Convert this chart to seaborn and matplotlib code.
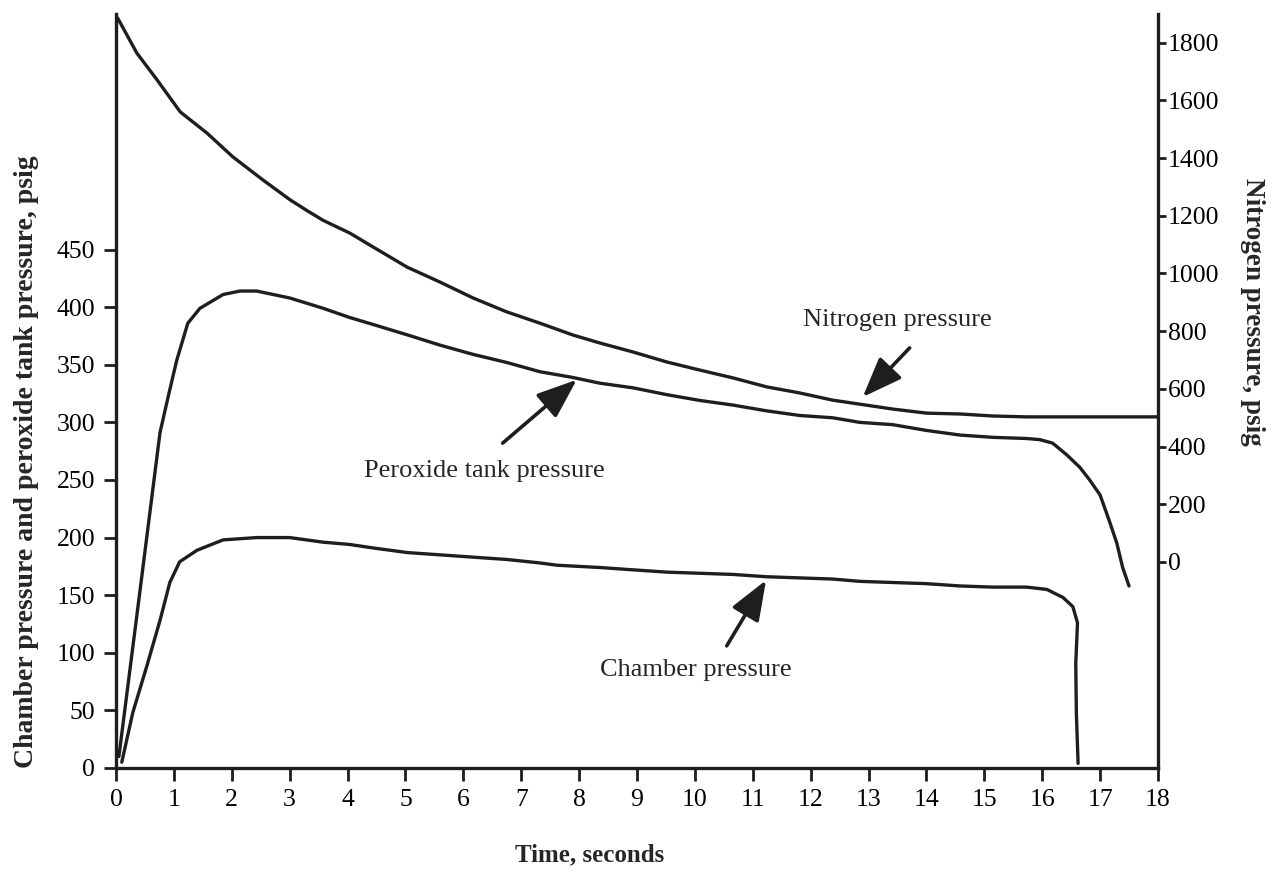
import matplotlib
matplotlib.use("Agg")
import matplotlib.pyplot as plt
import seaborn as sns

# values
nitrogen_t = [0.03, 0.36, 0.71, 1.11, 1.57, 2.02, 2.54, 3.01, 3.30, 3.58, 4.04, 4.44,
              5.03, 5.60, 6.17, 6.75, 7.32, 7.89, 8.36, 8.93, 9.52, 10.09, 10.66, 11.24,
              11.81, 12.38, 12.85, 13.42, 14.0, 14.58, 15.15, 15.73, 16.3, 17.34, 18.0]
nitrogen_psig = [1885, 1764, 1671, 1560, 1487, 1404, 1324, 1255, 1218, 1184, 1140, 1092,
                 1022, 970, 915, 867, 828, 787, 759, 728, 693, 665, 638, 607,
                 586, 561, 547, 530, 516, 513, 506, 503, 503, 503, 503]

peroxide_t = [0.05, 0.41, 0.76, 0.90, 1.05, 1.24, 1.45, 1.85, 2.14, 2.43, 3.0, 3.58,
              4.04, 4.44, 5.03, 5.60, 6.17, 6.75, 7.32, 7.89, 8.36, 8.93, 9.52, 10.09,
              10.66, 11.24, 11.81, 12.38, 12.85, 13.42, 14.0, 14.58, 15.15, 15.73, 15.96,
              16.18, 16.42, 16.65, 16.82, 17.0, 17.17, 17.29, 17.39, 17.5]
peroxide_psig = [10, 152, 291, 322, 354, 386, 399, 411, 414, 414, 408, 399,
                 391, 385, 376, 367, 359, 352, 344, 339, 334, 330, 324, 319,
                 315, 310, 306, 304, 300, 298, 293, 289, 287, 286, 285,
                 282, 272, 261, 250, 237, 213, 195, 174, 158]

chamber_t = [0.10, 0.29, 0.53, 0.76, 0.93, 1.10, 1.40, 1.85, 2.43, 3.0, 3.58, 4.04,
             4.44, 5.03, 5.60, 6.17, 6.75, 7.32, 7.62, 8.36, 8.93, 9.52, 10.09, 10.66,
             11.24, 11.81, 12.38, 12.85, 13.42, 14.0, 14.58, 15.15, 15.73, 16.08, 16.36,
             16.53, 16.61, 16.58, 16.59, 16.62]
chamber_psig = [5, 48, 88, 128, 161, 179, 189, 198, 200, 200, 196, 194,
                191, 187, 185, 183, 181, 178, 176, 174, 172, 170, 169, 168,
                166, 165, 164, 162, 161, 160, 158, 157, 157, 155, 148,
                140, 126, 91, 48, 4]

x_ticks = list(range(0, 19))
left_ticks = list(range(0, 451, 50))
right_ticks = list(range(0, 1801, 200))

sns.set_style("ticks")
plt.rcParams["font.family"] = ["Liberation Serif", "DejaVu Serif"]

ink = "#1e1e1e"
lw = 2.4

fig = plt.figure(figsize=(12.76, 8.8), dpi=100)
ax = fig.add_axes([0.0909, 0.1273, 0.8166, 0.8568])
ax2 = ax.twinx()

sns.lineplot(x=peroxide_t, y=peroxide_psig, ax=ax, color=ink, lw=lw, sort=False)
sns.lineplot(x=chamber_t, y=chamber_psig, ax=ax, color=ink, lw=lw, sort=False)
sns.lineplot(x=nitrogen_t, y=nitrogen_psig, ax=ax2, color=ink, lw=lw, sort=False)

ax.set_xlim(0, 18)
ax.set_ylim(0, 654.5)
ax2.set_ylim(-714, 1899.5)
ax.set_xticks(x_ticks)
ax.set_yticks(left_ticks)
ax2.set_yticks(right_ticks)

ax.tick_params(axis="both", direction="out", length=9, width=2, labelsize=18.5,
               color=ink, labelcolor="black", pad=6)
ax2.tick_params(axis="y", direction="out", length=6, width=2, labelsize=18.5,
                color=ink, labelcolor="black", pad=1)

for s in ["top", "right"]:
    ax.spines[s].set_visible(False)
for s in ["top", "left", "bottom"]:
    ax2.spines[s].set_visible(False)
for sp in [ax.spines["left"], ax.spines["bottom"], ax2.spines["right"]]:
    sp.set_linewidth(2.4)
    sp.set_color(ink)

ax.set_xlabel("Time, seconds", fontsize=18, fontweight="bold")
ax.xaxis.set_label_coords(0.455, -0.0995)
ax.set_ylabel("")
ax2.set_ylabel("")
fig.text(27 / 1276, 1 - 462 / 880, "Chamber pressure and peroxide tank pressure, psig",
         rotation=90, ha="center", va="center", fontsize=20, fontweight="bold")
fig.text(1252 / 1276, 1 - 312 / 880, "Nitrogen pressure, psig",
         rotation=270, ha="center", va="center", fontsize=19.5, fontweight="bold")

arrow = dict(arrowstyle="-|>,head_length=1.3,head_width=0.5", color=ink, lw=2.6,
             shrinkA=0, shrinkB=0, mutation_scale=19)

# peroxide tank pressure note
ax.annotate("", xy=(7.96, 337), xytext=(6.68, 282), arrowprops=arrow)
ax.text(6.36, 258, "Peroxide tank pressure", fontsize=19, ha="center", va="center")

# chamber pressure note
ax.annotate("", xy=(11.23, 163), xytext=(10.55, 106), arrowprops=arrow)
ax.text(10.02, 85, "Chamber pressure", fontsize=19, ha="center", va="center")

# nitrogen pressure note
ax2.annotate("", xy=(12.9, 572), xytext=(13.71, 742), arrowprops=arrow)
ax2.text(13.49, 839, "Nitrogen pressure", fontsize=19, ha="center", va="center")

fig.savefig("out.png", dpi=100)
